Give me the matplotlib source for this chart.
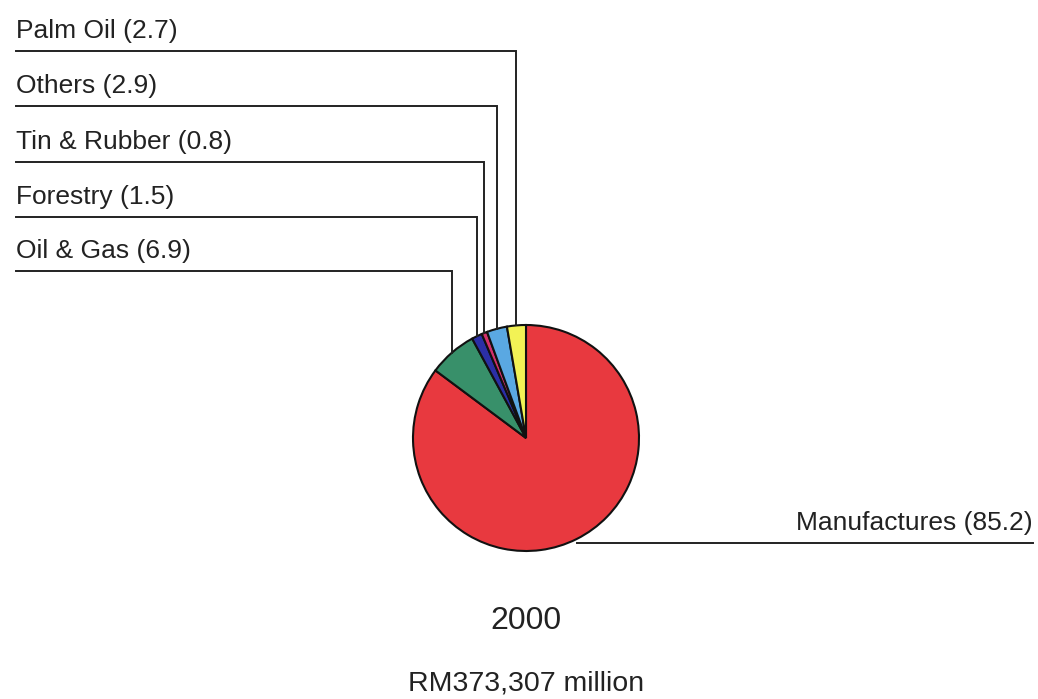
import numpy as np
import matplotlib
matplotlib.use("Agg")
import matplotlib.pyplot as plt

plt.rcParams['font.family'] = ['Liberation Sans', 'DejaVu Sans']

# export shares, 2000 (percent)
sectors = ['Manufactures', 'Oil & Gas', 'Forestry', 'Tin & Rubber', 'Others', 'Palm Oil']
shares = [85.2, 6.9, 1.5, 0.8, 2.9, 2.7]
colors = ['#e8393f', '#38906a', '#2b2fa6', '#d3306b', '#5aa8e2', '#f2f255']
year_label = '2000'
total_label = 'RM373,307 million'

W, H = 1038, 699
fig = plt.figure(figsize=(W / 100, H / 100), dpi=100)
ax = fig.add_axes([0, 0, 1, 1])

# work in pixel units, y measured from the top of the image
def Y(py):
    return H - py

cx, cy, r = 526, 438, 113
wedges, _ = ax.pie(shares, colors=colors, startangle=90, counterclock=False,
                   center=(cx, Y(cy)), radius=r, frame=True,
                   wedgeprops=dict(edgecolor='#111111', linewidth=1.5))
ax.set_xlim(0, W)
ax.set_ylim(0, H)
ax.set_aspect('equal')
ax.axis('off')

# label rows for the small slices, manufactures goes to the right
label_y = {'Palm Oil': 51, 'Others': 106, 'Tin & Rubber': 162,
           'Forestry': 217, 'Oil & Gas': 271}
ink = '#222222'

for w, name, val in zip(wedges, sectors, shares):
    mid = np.deg2rad((w.theta1 + w.theta2) / 2)
    px = cx + r * np.cos(mid)
    py = Y(cy) + r * np.sin(mid)
    text = f'{name} ({val})'
    if name in label_y:
        ly = Y(label_y[name])
        ax.plot([16, px, px], [ly, ly, py], color=ink, lw=1.4,
                solid_joinstyle='miter')
        ax.text(16, ly + 13, text, fontsize=19, ha='left', va='baseline', color=ink)
    else:
        ly = Y(543)
        ax.plot([px, 1033], [ly, ly], color=ink, lw=1.4)
        ax.text(1033, ly + 13, text, fontsize=19, ha='right', va='baseline', color=ink)

ax.text(cx, Y(629), year_label, fontsize=23, ha='center', va='baseline', color=ink)
ax.text(cx, Y(691), total_label, fontsize=20.5, ha='center', va='baseline', color=ink)

fig.savefig('out.png', dpi=100, facecolor='white')
